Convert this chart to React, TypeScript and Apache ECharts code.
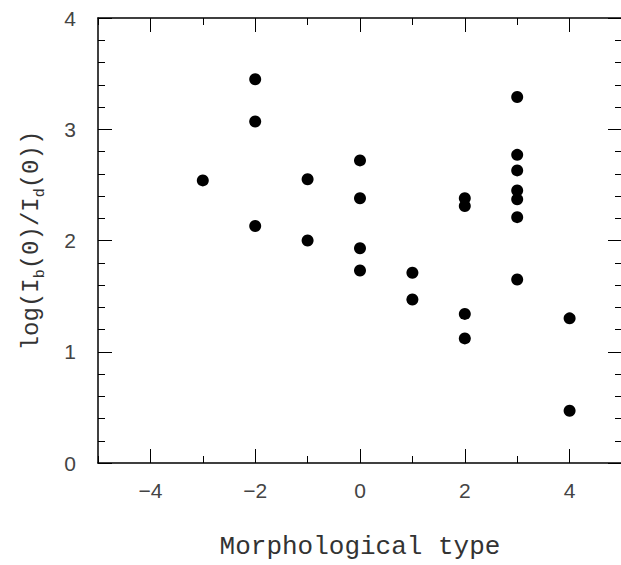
import React, { useEffect, useRef } from "react";
import * as echarts from "echarts";

const morphType = [-3, -2, -2, -2, -1, -1, 0, 0, 0, 0, 1, 1, 2, 2, 2, 2, 3, 3, 3, 3, 3, 3, 3, 4, 4];
const logRatio = [2.54, 3.45, 3.07, 2.13, 2.55, 2.0, 2.72, 2.38, 1.93, 1.73, 1.71, 1.47, 2.38, 2.31, 1.34, 1.12, 3.29, 2.77, 2.63, 2.45, 2.37, 2.21, 1.65, 1.3, 0.47];
const xMajorTicks = [-4, -2, 0, 2, 4];
const xTitle = "Morphological type";
const yTitle = "{n|log(I}{s|b}{n|(0)/I}{s|d}{n|(0))}";

const labelFont = "Liberation Sans";
const titleFont = "Liberation Mono";

export default function App() {
  const ref = useRef<HTMLDivElement>(null);
  useEffect(() => {
    if (!ref.current) return;
    const chart = echarts.init(ref.current, null, { renderer: "svg" });
    const minus = (v: number) => String(v).replace("-", "\u2212");
    const baseX = {
      type: "value",
      min: -5,
      max: 5,
      interval: 1,
      splitLine: { show: false },
    };
    const baseY = {
      type: "value",
      min: 0,
      max: 4,
      interval: 1,
      splitLine: { show: false },
      axisLine: { show: true, onZero: false, lineStyle: { color: "#000", width: 1.5 } },
      axisTick: { show: true, inside: true, length: 14, lineStyle: { color: "#000", width: 1 } },
      minorTick: { show: true, splitNumber: 5, length: 7, lineStyle: { color: "#000", width: 1 } },
    };
    chart.setOption({
      animation: false,
      grid: { left: 98, top: 18, width: 524, height: 445, containLabel: false, outerBoundsMode: "none" },
      xAxis: [
        {
          ...baseX,
          position: "bottom",
          axisLine: { show: true, onZero: false, lineStyle: { color: "#000", width: 1.5 } },
          axisTick: { show: true, inside: true, length: 7, lineStyle: { color: "#000", width: 1 } },
          axisLabel: { show: false },
          name: xTitle,
          nameLocation: "middle",
          nameGap: 71,
          nameTextStyle: { fontFamily: titleFont, fontSize: 26, color: "#333" },
        },
        {
          ...baseX,
          position: "bottom",
          axisLine: { show: false, onZero: false },
          axisTick: { show: true, inside: true, length: 14, customValues: xMajorTicks, lineStyle: { color: "#000", width: 1 } },
          axisLabel: {
            show: true,
            customValues: xMajorTicks,
            margin: 17,
            fontFamily: labelFont,
            fontSize: 21,
            color: "#444",
            formatter: minus,
          },
        },
        {
          ...baseX,
          position: "top",
          axisLine: { show: true, onZero: false, lineStyle: { color: "#000", width: 1.5 } },
          axisTick: { show: true, inside: true, length: 7, lineStyle: { color: "#000", width: 1 } },
          axisLabel: { show: false },
        },
        {
          ...baseX,
          position: "top",
          axisLine: { show: false, onZero: false },
          axisTick: { show: true, inside: true, length: 14, customValues: xMajorTicks, lineStyle: { color: "#000", width: 1 } },
          axisLabel: { show: false },
        },
      ],
      yAxis: [
        {
          ...baseY,
          position: "left",
          axisLabel: { show: true, margin: 22, fontFamily: labelFont, fontSize: 21, color: "#444" },
          name: yTitle,
          nameLocation: "middle",
          nameRotate: 90,
          nameGap: 50,
          nameTextStyle: {
            fontFamily: titleFont,
            fontSize: 24,
            color: "#333",
            rich: {
              n: { fontFamily: titleFont, fontSize: 24, color: "#333", lineHeight: 34, verticalAlign: "middle" },
              s: { fontFamily: titleFont, fontSize: 15, color: "#333", lineHeight: 34, verticalAlign: "bottom" },
            },
          },
        },
        {
          ...baseY,
          position: "right",
          axisLabel: { show: false },
        },
      ],
      series: [
        {
          type: "scatter",
          xAxisIndex: 0,
          yAxisIndex: 0,
          symbol: "circle",
          symbolSize: 12,
          itemStyle: { color: "#000", opacity: 1 },
          data: morphType.map((x, i) => [x, logRatio[i]]),
        },
      ],
    });
    return () => chart.dispose();
  }, []);
  return (
    <div
      ref={ref}
      style={{ position: "fixed", left: 0, top: 0, width: 621, height: 565, background: "#fff" }}
    />
  );
}
